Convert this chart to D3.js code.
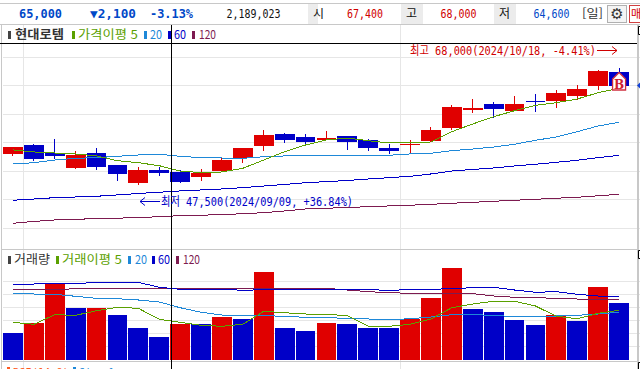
<!DOCTYPE html>
<html lang="ko">
<head>
<meta charset="UTF-8">
<title>현대로템</title>
<script src="https://d3js.org/d3.v7.min.js"></script>
<style>
  html, body { margin: 0; padding: 0; background: #fff; overflow: hidden; }
  text { font-family: "DejaVu Sans Mono", "Noto Sans CJK KR", sans-serif; }
</style>
</head>
<body>
<svg id="chart" width="640" height="369"></svg>
<script>
// daily candles
const opens  = [53000,54600,53100,50500,53200,51100,47900,50200,49800,48950,50000,52300,54400,56500,56000,55500,56100,55400,54000,54500,55300,57500,60700,61800,60500,62300,62300,63200,64900,67400];
const highs  = [54200,54700,55600,53500,54000,51100,50700,50700,50200,50350,52450,54000,57200,56700,56500,57000,56100,55600,54700,55400,57700,61600,62600,62100,63200,63500,64200,65100,67700,68000];
const lows   = [52600,51800,52100,50400,50200,48250,47500,49100,47900,48250,49800,51400,53500,54900,54700,55400,53700,53500,53000,53000,55100,57200,60200,59300,60500,60400,61100,62500,64200,64600];
const closes = [54200,52100,52600,52800,50700,49500,50200,49650,48100,49650,51900,54000,56300,55400,55100,55800,55100,54000,53500,54700,57200,61200,61000,60900,61800,62100,63700,64400,67500,65000];

const ma5   = [53700,53340,53160,52990,52640,51810,51460,50930,50000,49710,49830,50480,51930,53390,54560,55440,55790,55320,54920,54920,55090,56900,58250,59530,60580,61530,61980,62630,63740,64510];
const ma20  = [51230,51460,51930,52230,52340,52580,52810,52930,52580,52340,52280,52230,52510,52640,52640,52690,52690,52690,52760,52990,53110,53570,53860,54210,54690,55390,55970,56900,57900,58550];
const ma60  = [44870,45090,45320,45440,45570,45800,46060,46270,46500,46670,46850,47080,47370,47640,47950,48130,48340,48600,48830,49070,49480,50000,50270,50530,50880,51180,51530,51880,52340,52760];
const ma120 = [40830,41150,41410,41530,41640,41730,41810,41990,42160,42250,42340,42510,42690,42990,43340,43460,43600,43740,43870,43990,44160,44340,44510,44690,44870,45040,45220,45390,45650,45920];

// volume in thousands of shares
const volumes = [1038,1423,2950,2000,2000,1731,1231,885,1385,1385,1654,1577,3385,1231,1115,1423,1385,1231,1231,1577,2385,3538,1962,1846,1538,1346,1731,1500,2808,2189];
const volUp   = [0,1,1,0,1,0,0,0,1,0,1,0,1,0,0,1,0,0,0,1,1,1,0,0,0,0,1,0,1,0];
const volMa5   = [1450,1373,1742,1719,1896,2027,1988,1565,1450,1335,1296,1373,1873,1819,1769,1758,1704,1296,1296,1373,1577,2011,2154,2258,2258,2077,1681,1588,1796,1911];
const volMa20  = [2565,2538,2527,2450,2373,2358,2308,2231,2011,1835,1731,1692,1704,1681,1642,1627,1604,1577,1550,1588,1654,1742,1742,1719,1665,1665,1692,1719,1769,1835];
const volMa60  = [2911,2923,2934,2934,2988,2988,2988,2796,2719,2719,2719,2681,2704,2704,2719,2719,2719,2704,2681,2704,2719,2742,2781,2796,2692,2604,2627,2527,2461,2435];
const volMa120 = [2719,2719,2719,2735,2746,2758,2758,2758,2758,2758,2758,2758,2758,2758,2758,2758,2692,2627,2588,2565,2565,2565,2550,2461,2411,2411,2358,2346,2334,2319];

const priceTicks = [70000,65000,60000,55000,50000,45000,40000];
const volTicks = [500,1000,1500,2000,2500,3000];
const gridDays = [1,19];

const RED = '#e00000', BLUE = '#0000c8', GREEN = '#5aa000', SKY = '#1e88d8', NAVY = '#0000c8', PLUM = '#7d1a50';
const KR = '"Noto Sans CJK KR"';

const svg = d3.select('#chart');
const days = d3.range(opens.length);

const x = d3.scaleBand().domain(days).range([3, 629]).paddingInner(0.05).paddingOuter(0);
const cx = i => x(i) + x.bandwidth() / 2;
const y = d3.scaleLinear().domain([70000, 40000]).range([57, 228]);
const yVol = d3.scaleLinear().domain([0, 4000]).range([360, 256]);

function txt(s, px, py, size, fill, opts) {
  opts = opts || {};
  const t = svg.append('text').attr('x', px).attr('y', py).attr('font-size', size).attr('fill', fill).text(s);
  if (opts.anchor) t.attr('text-anchor', opts.anchor);
  if (opts.weight) t.attr('font-weight', opts.weight);
  if (opts.family) t.style('font-family', opts.family);
  if (opts.len) t.attr('textLength', opts.len).attr('lengthAdjust', 'spacingAndGlyphs');
  return t;
}

// header strip
svg.append('rect').attr('x', 0).attr('y', 3).attr('width', 640).attr('height', 1).attr('fill', '#c8c8c8');
svg.append('rect').attr('x', 0).attr('y', 24).attr('width', 640).attr('height', 1).attr('fill', '#c8c8c8');
[[308, 10], [401, 22], [494, 22]].forEach(d => {
  svg.append('rect').attr('x', d[0]).attr('y', 4).attr('width', d[1]).attr('height', 20).attr('fill', '#ececec');
});
txt('65,000', 19, 18, 12, '#0048c8', {weight: 'bold', len: 43});
txt('▼2,100', 90, 18, 12, '#0048c8', {weight: 'bold', len: 46});
txt('-3.13%', 150, 18, 12, '#0048c8', {weight: 'bold', len: 43});
txt('2,189,023', 226.5, 18, 11.5, '#111', {len: 54});
txt('시', 313, 18, 12, '#111', {family: KR});
txt('67,400', 347, 18, 11.5, '#d00000', {len: 36});
txt('고', 406, 18, 12, '#111', {family: KR});
txt('68,000', 440.5, 18, 11.5, '#d00000', {len: 36});
txt('저', 499, 18, 12, '#111', {family: KR});
txt('64,600', 533.5, 18, 11.5, '#0048c8', {len: 36});
txt('[일]', 582, 18, 12, '#333', {family: KR, len: 21});
svg.append('rect').attr('x', 607.5).attr('y', 5.5).attr('width', 19).attr('height', 17).attr('fill', '#f4f4f4').attr('stroke', '#b0b0b0');
txt('⚙', 617, 19, 15, '#333', {anchor: 'middle', family: '"DejaVu Sans"'});
svg.append('rect').attr('x', 629.5).attr('y', 5.5).attr('width', 12).attr('height', 17).attr('fill', '#fff').attr('stroke', '#d04040');
txt('매', 631, 18, 11, '#d00000', {family: KR});

// grid
const grid = svg.append('g').attr('stroke', '#e6e6e6').attr('shape-rendering', 'crispEdges');
priceTicks.forEach(t => grid.append('line').attr('x1', 3).attr('x2', 640).attr('y1', y(t)).attr('y2', y(t)));
volTicks.forEach(t => grid.append('line').attr('x1', 3).attr('x2', 640).attr('y1', yVol(t) - 0.5).attr('y2', yVol(t) - 0.5));
gridDays.forEach(d => {
  const gx = Math.floor(x(d)) + 0.5;
  grid.append('line').attr('x1', gx).attr('x2', gx).attr('y1', 25).attr('y2', 369);
});

// panel frames
const frame = svg.append('g').attr('stroke', '#c8c8c8').attr('shape-rendering', 'crispEdges');
frame.append('line').attr('x1', 1.5).attr('x2', 1.5).attr('y1', 25).attr('y2', 369);
frame.append('line').attr('x1', 637.5).attr('x2', 637.5).attr('y1', 25).attr('y2', 369).attr('stroke-width', 2);
frame.append('line').attr('x1', 1).attr('x2', 637).attr('y1', 249.5).attr('y2', 249.5);
frame.append('line').attr('x1', 1).attr('x2', 637).attr('y1', 361.5).attr('y2', 361.5);

// scale corner brackets and current price pointer on the right edge
[26, 250, 362].forEach(top => {
  svg.append('path').attr('d', `M640 ${top + 0.5}H638.5V${top + 8.5}H640`).attr('fill', 'none').attr('stroke', '#000');
});
svg.append('path').attr('d', d3.line()([[637, y(closes[29])], [640, y(closes[29]) - 3], [640, y(closes[29]) + 3]]) + 'Z').attr('fill', '#1040d8');

// crosshair
const cross = svg.append('g').attr('stroke', '#000').attr('shape-rendering', 'crispEdges');

// candles
const candles = svg.append('g').attr('shape-rendering', 'crispEdges');
candles.selectAll('line').data(days).join('line')
  .attr('x1', cx).attr('x2', cx)
  .attr('y1', i => y(highs[i])).attr('y2', i => y(lows[i]))
  .attr('stroke', i => closes[i] >= opens[i] ? RED : BLUE);
candles.selectAll('rect').data(days).join('rect')
  .attr('x', i => x(i)).attr('width', x.bandwidth())
  .attr('y', i => y(Math.max(opens[i], closes[i])))
  .attr('height', i => Math.max(1, Math.abs(y(opens[i]) - y(closes[i]))))
  .attr('fill', i => closes[i] >= opens[i] ? RED : BLUE);

const maLine = sc => d3.line().x((d, i) => cx(i)).y(d => sc(d));
[[ma120, PLUM], [ma60, NAVY], [ma20, SKY], [ma5, GREEN]].forEach(d => {
  svg.append('path').attr('d', maLine(y)(d[0])).attr('fill', 'none').attr('stroke', d[1]).attr('stroke-width', 1).attr('shape-rendering', 'crispEdges');
});

// volume
svg.append('g').attr('shape-rendering', 'crispEdges').selectAll('rect').data(days).join('rect')
  .attr('x', i => x(i)).attr('width', x.bandwidth())
  .attr('y', i => yVol(volumes[i]))
  .attr('height', i => yVol(0) - yVol(volumes[i]))
  .attr('fill', i => volUp[i] ? RED : BLUE);
[[volMa120, PLUM], [volMa60, NAVY], [volMa20, SKY], [volMa5, GREEN]].forEach(d => {
  svg.append('path').attr('d', maLine(yVol)(d[0])).attr('fill', 'none').attr('stroke', d[1]).attr('stroke-width', 1).attr('shape-rendering', 'crispEdges');
});

// black crosshair over everything
cross.raise();
cross.append('line').attr('x1', 0).attr('x2', 637).attr('y1', 43.5).attr('y2', 43.5);
cross.append('line').attr('x1', 171.5).attr('x2', 171.5).attr('y1', 25).attr('y2', 369);

// legends
function legend(items, py) {
  items.forEach(d => {
    svg.append('rect').attr('x', d.x).attr('y', py - 8).attr('width', 3).attr('height', 8).attr('fill', d.c);
    txt(d.t, d.tx, py, 12, d.tc || d.c, {family: KR, len: d.len, weight: d.w});
  });
}
legend([
  {x: 8, tx: 15, t: '현대로템', len: 49, c: '#444', tc: '#333', w: 'bold'},
  {x: 72, tx: 78, t: '가격이평 5', len: 60, c: GREEN},
  {x: 144, tx: 150, t: '20', len: 12, c: SKY},
  {x: 168, tx: 174, t: '60', len: 12, c: NAVY},
  {x: 192, tx: 199, t: '120', len: 17, c: PLUM}
], 39);
legend([
  {x: 8, tx: 14, t: '거래량', len: 36, c: '#444', tc: '#333'},
  {x: 56, tx: 62, t: '거래이평 5', len: 60, c: GREEN},
  {x: 128, tx: 135, t: '20', len: 12, c: SKY},
  {x: 152, tx: 158, t: '60', len: 12, c: NAVY},
  {x: 176, tx: 183, t: '120', len: 17, c: PLUM}
], 264);

// hi / lo annotations
txt('최고 68,000(2024/10/18, -4.41%)', 410, 54.5, 12.5, '#d00000', {len: 186});
svg.append('path').attr('d', 'M597 50.5H617M612 46.5L617 50.5L612 54.5').attr('fill', 'none').attr('stroke', '#d00000');
txt('최저 47,500(2024/09/09, +36.84%)', 161, 205.5, 12.5, '#0000c8', {len: 192});
svg.append('path').attr('d', 'M140 201.5H160M145 197.5L140 201.5L145 205.5').attr('fill', 'none').attr('stroke', '#0000c8');

// buy marker on the last candle
const b = cx(29);
svg.append('path')
  .attr('d', d3.line()([[b - 6.5, 90], [b - 6.5, 79], [b, 72.5], [b + 6.5, 79], [b + 6.5, 90]]) + 'Z')
  .attr('fill', '#fff').attr('stroke', '#d03040').attr('stroke-width', 1.3);
txt('B', b, 88.5, 12, '#d02030', {anchor: 'middle', weight: 'bold', family: '"DejaVu Serif"'});

// next panel's legend is cut off by the window
svg.append('rect').attr('x', 7).attr('y', 367).attr('width', 3).attr('height', 2).attr('fill', '#ff5a20');
txt('RSI(14,9)', 13, 375.5, 11, '#ff5a20', {len: 56});
svg.append('rect').attr('x', 73).attr('y', 367).attr('width', 3).attr('height', 2).attr('fill', SKY);
txt('Signal', 79, 375.5, 11, SKY, {len: 36});
</script>
</body>
</html>
